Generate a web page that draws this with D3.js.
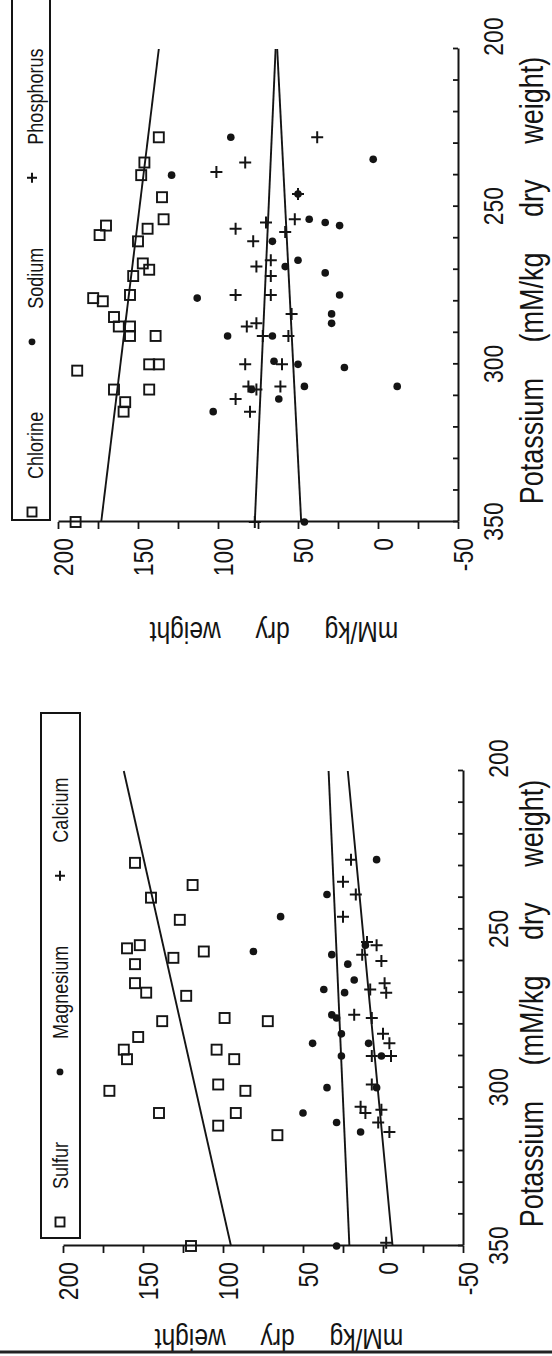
<!DOCTYPE html>
<html>
<head>
<meta charset="utf-8">
<script src="https://cdn.jsdelivr.net/npm/d3@7"></script>
<style>
  html, body { margin: 0; padding: 0; background: #ffffff; }
  svg { display: block; }
  text { font-family: "Liberation Sans", Arial, Helvetica, sans-serif; fill: #141414; }
</style>
</head>
<body>
<svg id="fig" width="552" height="1356"></svg>
<script>
// ---------------- data ----------------
// Potassium axis (mM/kg dry weight)
const potassiumDomain = [200, 350];
const potassiumTicks = [200, 210, 220, 230, 240, 250, 260, 270, 280, 290, 300, 310, 320, 330, 340, 350];
const potassiumLabels = [200, 250, 300, 350];
// Element axis (mM/kg dry weight)
const valueDomain = [-50, 200];
const valueTicks = [-50, -25, 0, 25, 50, 75, 100, 125, 150, 175, 200];
const valueLabels = [-50, 0, 50, 100, 150, 200];

// Anion panel
const chlorineK  = [228, 236, 240, 247, 256, 259, 257, 254, 261, 268, 270, 272, 279, 280, 278, 285, 288, 288, 291, 291, 302, 300, 300, 308, 308, 312, 315, 350];
const chlorineMM = [137, 146, 148, 135, 170, 174, 144, 134, 150, 147, 143, 153, 178, 172, 155, 165, 162, 155, 155, 139, 188, 143, 137, 165, 143, 158, 159, 189];
const sodiumK  = [228, 240, 279, 291, 261, 299, 308, 315, 235, 246, 254, 255, 256, 267, 271, 278, 284, 287, 269, 311, 300, 307, 301, 307, 350, 291];
const sodiumMM = [92, 129, 113, 94, 66, 65, 79, 103, 3, 50, 43, 33, 24, 50, 33, 24, 29, 29, 58, 62, 50, 46, 21, -12, 46, 66];
const phosphorusK  = [236, 239, 257, 261, 269, 278, 255, 267, 272, 278, 288, 287, 291, 300, 307, 308, 311, 315, 350, 228, 246, 254, 284, 258, 300, 307, 291];
const phosphorusMM = [83, 101, 89, 78, 76, 89, 70, 67, 67, 67, 82, 76, 72, 83, 81, 76, 89, 80, 77, 38, 50, 52, 54, 58, 60, 61, 56];
// fitted lines: value at K = 200 and K = 350
const chlorineFit   = [137, 173];
const sodiumFit     = [63, 48];
const phosphorusFit = [64, 77];

// Cation panel
const sulfurK  = [229, 240, 236, 247, 257, 256, 255, 261, 259, 267, 270, 271, 279, 278, 279, 288, 291, 284, 288, 291, 301, 299, 301, 308, 308, 312, 315, 350];
const sulfurMM = [155, 145, 119, 127, 112, 160, 152, 155, 131, 155, 148, 123, 138, 99, 72, 162, 160, 153, 104, 93, 171, 103, 86, 92, 140, 103, 66, 120];
const magnesiumK  = [228, 239, 246, 257, 258, 261, 266, 269, 270, 255, 277, 278, 283, 286, 290, 286, 290, 300, 308, 311, 314, 300, 350];
const magnesiumMM = [4, 35, 64, 81, 32, 22, 18, 37, 24, 11, 32, 29, 26, 44, 26, 9, 1, 35, 50, 29, 14, 4, 29];
const calciumK  = [228, 235, 239, 246, 254, 255, 258, 260, 267, 270, 269, 277, 278, 283, 286, 290, 290, 306, 308, 307, 311, 314, 299, 349];
const calciumMM = [20, 25, 17, 25, 10, 4, 13, 1, -1, -2, 8, 18, 7, 0, -4, 7, -5, 14, 11, 1, 3, -4, 7, -2];
const sulfurFit    = [162, 95];
const magnesiumFit = [34, 21];
const calciumFit   = [22, -6];

const zip = (ks, vs) => ks.map((k, i) => ({ k, v: vs[i] }));

// ---------------- drawing ----------------
// The figure is laid out landscape (1356 x 552) and turned a quarter turn
// onto the portrait page.
const PAGE_W = 552, PAGE_H = 1356;
const NARROW = 0.82;               // horizontal squeeze for a condensed face
const INK = "#141414";
const TITLE_BASELINE = 543;        // baseline of the potassium titles

const svg = d3.select("#fig");
svg.append("rect").attr("width", PAGE_W).attr("height", PAGE_H).attr("fill", "#ffffff");
const root = svg.append("g").attr("transform", `translate(0,${PAGE_H}) rotate(-90)`);

function marker(sel, shape, s) {
  if (shape === "square") {
    sel.append("rect")
      .attr("x", -s / 2).attr("y", -s / 2).attr("width", s).attr("height", s)
      .attr("fill", "none").attr("stroke", INK).attr("stroke-width", 1.9);
  } else if (shape === "dot") {
    sel.append("circle").attr("r", s * 0.38).attr("fill", INK);
  } else {
    sel.append("path")
      .attr("d", `M${-s / 2},0H${s / 2}M0,${-s / 2}V${s / 2}`)
      .attr("stroke", INK).attr("stroke-width", 2).attr("fill", "none");
  }
}

// condensed text placed at (x, y) with an optional extra rotation
function label(parent, x, y, str, size, opts = {}) {
  const g = parent.append("g")
    .attr("transform", `translate(${x},${y})${opts.rotate ? ` rotate(${opts.rotate})` : ""} scale(${NARROW},1)`);
  const t = g.append("text")
    .attr("text-anchor", opts.anchor || "start")
    .style("font-size", size + "px")
    .text(str);
  if (opts.wordSpacing) t.attr("word-spacing", opts.wordSpacing / NARROW);
  return t;
}

function drawPanel(cfg) {
  const g = root.append("g");
  const x = d3.scaleLinear().domain(potassiumDomain).range(cfg.xRange);
  const y = d3.scaleLinear().domain(valueDomain).range(cfg.yRange);
  const axisY = cfg.yRange[0];      // position of the potassium axis
  const axisX = cfg.xRange[1];      // position of the value axis

  // potassium axis
  const xAxis = g.append("g").attr("transform", `translate(0,${axisY})`)
    .call(d3.axisBottom(x).tickValues(potassiumTicks).tickSizeInner(-5).tickSizeOuter(0)
      .tickFormat(d => potassiumLabels.includes(d) ? d : ""));
  xAxis.select(".domain").attr("stroke", INK).attr("stroke-width", 2);
  xAxis.selectAll(".tick line").attr("stroke", INK).attr("stroke-width", 1.8);
  xAxis.selectAll(".tick text")
    .attr("y", 45).attr("dy", 0)
    .attr("x", d => d === potassiumLabels[0] ? 12 / NARROW : 0)
    .attr("transform", `scale(${NARROW},1)`)
    .style("font-size", "28px").attr("fill", INK);

  // value axis
  const yAxis = g.append("g").attr("transform", `translate(${axisX},0)`)
    .call(d3.axisLeft(y).tickValues(valueTicks).tickSizeInner(7).tickSizeOuter(0).tickPadding(9)
      .tickFormat(d => valueLabels.includes(d) ? d : ""));
  yAxis.select(".domain").attr("stroke", INK).attr("stroke-width", 2);
  yAxis.selectAll(".tick line").attr("stroke", INK).attr("stroke-width", 1.8);
  yAxis.selectAll(".tick text")
    .attr("x", -16 / NARROW).attr("dy", "0.53em")
    .attr("transform", `scale(${NARROW},1)`)
    .style("font-size", "28px").attr("fill", INK);

  // axis titles
  label(g, (cfg.xRange[0] + cfg.xRange[1]) / 2 + 5, TITLE_BASELINE,
        "Potassium (mM/kg dry weight)", 33, { anchor: "middle", wordSpacing: 28 });
  label(g, axisX - cfg.titleGap, (cfg.yRange[0] + cfg.yRange[1]) / 2 + 16,
        "mM/kg dry weight", 30, { anchor: "middle", rotate: -90, wordSpacing: 28 });

  // fitted lines
  const line = d3.line().x(d => x(d.k)).y(d => y(d.v));
  cfg.series.forEach(s => {
    g.append("path")
      .datum(zip(potassiumDomain, s.fit))
      .attr("d", line)
      .attr("fill", "none").attr("stroke", INK).attr("stroke-width", 1.9);
  });

  // observations
  cfg.series.forEach(s => {
    g.append("g").selectAll("g")
      .data(zip(s.k, s.v))
      .join("g")
      .attr("transform", d => `translate(${x(d.k)},${y(d.v)})`)
      .each(function () { marker(d3.select(this), s.shape, s.shape === "plus" ? 12 : 10); });
  });

  // legend
  const L = cfg.legend;
  g.append("rect")
    .attr("x", L.u0).attr("y", L.v0).attr("width", L.u1 - L.u0).attr("height", L.v1 - L.v0)
    .attr("fill", "none").attr("stroke", INK).attr("stroke-width", 2);
  let u = L.u0 + L.start;
  cfg.series.forEach(s => {
    const m = g.append("g").attr("transform", `translate(${u},${L.markerV})`);
    marker(m, s.shape, s.shape === "plus" ? 10 : 9);
    const t = label(g, u + 33, L.baseline, s.name, 22);
    u = u + 33 + t.node().getComputedTextLength() * NARROW + 70;
  });
}

// Cation panel (lower on the page)
drawPanel({
  xRange: [585, 110],
  yRange: [463, 63],
  titleGap: 83,
  legend: { u0: 118, u1: 643, v0: 41, v1: 80, markerV: 60, baseline: 68, start: 16 },
  series: [
    { name: "Sulfur", shape: "square", k: sulfurK, v: sulfurMM, fit: sulfurFit },
    { name: "Magnesium", shape: "dot", k: magnesiumK, v: magnesiumMM, fit: magnesiumFit },
    { name: "Calcium", shape: "plus", k: calciumK, v: calciumMM, fit: calciumFit }
  ]
});

// Anion panel (upper on the page)
drawPanel({
  xRange: [1307, 834],
  yRange: [458, 58],
  titleGap: 100,
  legend: { u0: 836, u1: 1368, v0: 12, v1: 50, markerV: 32, baseline: 43, start: 8 },
  series: [
    { name: "Chlorine", shape: "square", k: chlorineK, v: chlorineMM, fit: chlorineFit },
    { name: "Sodium", shape: "dot", k: sodiumK, v: sodiumMM, fit: sodiumFit },
    { name: "Phosphorus", shape: "plus", k: phosphorusK, v: phosphorusMM, fit: phosphorusFit }
  ]
});

// bottom edge of the printed page
root.append("line")
  .attr("x1", 4).attr("x2", 4).attr("y1", 0).attr("y2", PAGE_W)
  .attr("stroke", "#222").attr("stroke-width", 3);
</script>
</body>
</html>
